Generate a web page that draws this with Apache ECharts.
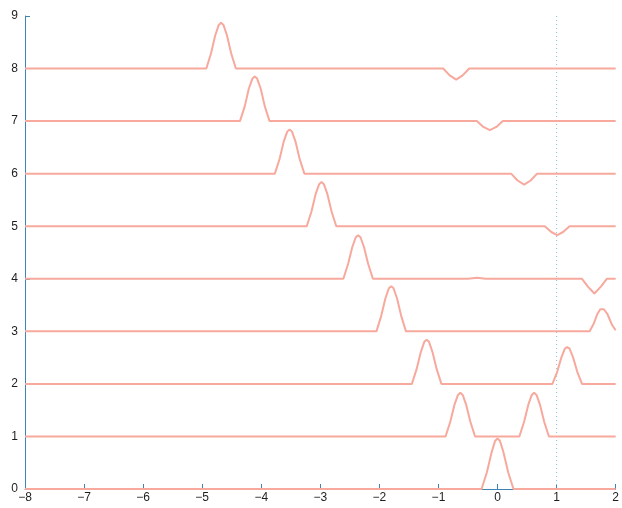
<!DOCTYPE html>
<html>
<head>
<meta charset="utf-8">
<script src="https://cdn.jsdelivr.net/npm/echarts@6/dist/echarts.min.js"></script>
<style>
html,body{margin:0;padding:0;background:#fff;}
#chart{width:622px;height:508px;}
</style>
</head>
<body>
<div id="chart"></div>
<script>
// x/y tick values
var xTicks = [-8, -7, -6, -5, -4, -3, -2, -1, 0, 1, 2];
var yTicks = [0, 1, 2, 3, 4, 5, 6, 7, 8, 9];
var refLineX = 1;

// each row: [x, y] points (baseline = row index)
var row0 = [[-8,0],[-0.27,0],[-0.18,0.32],[-0.1,0.7],[-0.04,0.92],[0,0.96],[0.04,0.92],[0.1,0.7],[0.18,0.32],[0.27,0],[2,0]];
var row1 = [[-8,1],[-0.88,1],[-0.8,1.28],[-0.73,1.6],[-0.67,1.79],[-0.63,1.83],[-0.59,1.79],[-0.53,1.6],[-0.46,1.28],[-0.38,1],
            [0.37,1],[0.45,1.28],[0.52,1.6],[0.58,1.79],[0.62,1.83],[0.66,1.79],[0.72,1.6],[0.79,1.28],[0.87,1],[2,1]];
var row2 = [[-8,2],[-1.45,2],[-1.37,2.28],[-1.3,2.6],[-1.24,2.8],[-1.2,2.84],[-1.16,2.8],[-1.1,2.6],[-1.03,2.28],[-0.95,2],
            [0.93,2],[1.01,2.23],[1.08,2.5],[1.14,2.67],[1.18,2.7],[1.22,2.67],[1.28,2.5],[1.35,2.23],[1.43,2],[2,2]];
var row3 = [[-8,3],[-2.05,3],[-1.97,3.29],[-1.9,3.62],[-1.84,3.82],[-1.8,3.86],[-1.76,3.82],[-1.7,3.62],[-1.63,3.29],[-1.55,3],
            [1.56,3],[1.63,3.15],[1.69,3.33],[1.74,3.42],[1.77,3.44],[1.8,3.42],[1.86,3.33],[1.94,3.12],[2,3.02]];
var row4 = [[-8,4],[-2.61,4],[-2.53,4.28],[-2.46,4.6],[-2.4,4.79],[-2.36,4.83],[-2.32,4.79],[-2.26,4.6],[-2.19,4.28],[-2.11,4],
            [-0.5,4],[-0.35,4.02],[-0.2,4],
            [1.43,4],[1.53,3.85],[1.64,3.72],[1.75,3.85],[1.85,4],[2,4]];
var row5 = [[-8,5],[-3.23,5],[-3.15,5.28],[-3.08,5.61],[-3.02,5.8],[-2.98,5.84],[-2.94,5.8],[-2.88,5.61],[-2.81,5.28],[-2.73,5],
            [0.8,5],[0.91,4.89],[1.01,4.83],[1.11,4.89],[1.22,5],[2,5]];
var row6 = [[-8,6],[-3.77,6],[-3.69,6.28],[-3.62,6.61],[-3.56,6.8],[-3.52,6.84],[-3.48,6.8],[-3.42,6.61],[-3.35,6.28],[-3.27,6],
            [0.23,6],[0.34,5.87],[0.45,5.79],[0.56,5.87],[0.67,6],[2,6]];
var row7 = [[-8,7],[-4.36,7],[-4.28,7.28],[-4.21,7.62],[-4.15,7.81],[-4.11,7.85],[-4.07,7.81],[-4.01,7.62],[-3.94,7.28],[-3.86,7],
            [-0.35,7],[-0.24,6.89],[-0.13,6.83],[-0.02,6.89],[0.09,7],[2,7]];
var row8 = [[-8,8],[-4.93,8],[-4.85,8.29],[-4.78,8.63],[-4.72,8.83],[-4.68,8.87],[-4.64,8.83],[-4.58,8.63],[-4.51,8.29],[-4.43,8],
            [-0.92,8],[-0.81,7.87],[-0.7,7.79],[-0.59,7.87],[-0.48,8],[2,8]];

var rows = [row0, row1, row2, row3, row4, row5, row6, row7, row8];

var chart = echarts.init(document.getElementById('chart'), null, {renderer: 'canvas'});
var axisColor = '#3f82b4';
function minusFmt(v){ return String(v).replace('-', '\u2212'); }

var series = rows.map(function(r){
  return {
    type: 'line', data: r, symbol: 'none', smooth: false, silent: true,
    lineStyle: {color: '#f7a99d', width: 2}, z: 3
  };
});
series.push({
  type: 'line', data: [[refLineX, yTicks[0]], [refLineX, yTicks[yTicks.length-1]]],
  symbol: 'none', silent: true,
  lineStyle: {color: '#8cbfe0', width: 1, type: [1, 3]}, z: 2
});

chart.setOption({
  animation: false,
  backgroundColor: '#ffffff',
  grid: {left: 25, right: 3, top: 16, bottom: 19, containLabel: false},
  xAxis: {
    type: 'value', min: -8, max: 2, interval: 1,
    axisLine: {show: true, onZero: false, lineStyle: {color: axisColor, width: 1}},
    axisTick: {show: true, inside: true, length: 5, lineStyle: {color: axisColor}},
    axisLabel: {color: '#1e1e1e', fontSize: 12, fontFamily: 'Liberation Sans, Arial, sans-serif', margin: 3, formatter: minusFmt},
    splitLine: {show: false}
  },
  yAxis: {
    type: 'value', min: 0, max: 9, interval: 1,
    axisLine: {show: true, onZero: false, lineStyle: {color: axisColor, width: 1}},
    axisTick: {show: true, inside: true, length: 5, lineStyle: {color: axisColor}},
    axisLabel: {color: '#1e1e1e', fontSize: 12, fontFamily: 'Liberation Sans, Arial, sans-serif', margin: 7, formatter: minusFmt},
    splitLine: {show: false}
  },
  series: series
});
</script>
</body>
</html>
